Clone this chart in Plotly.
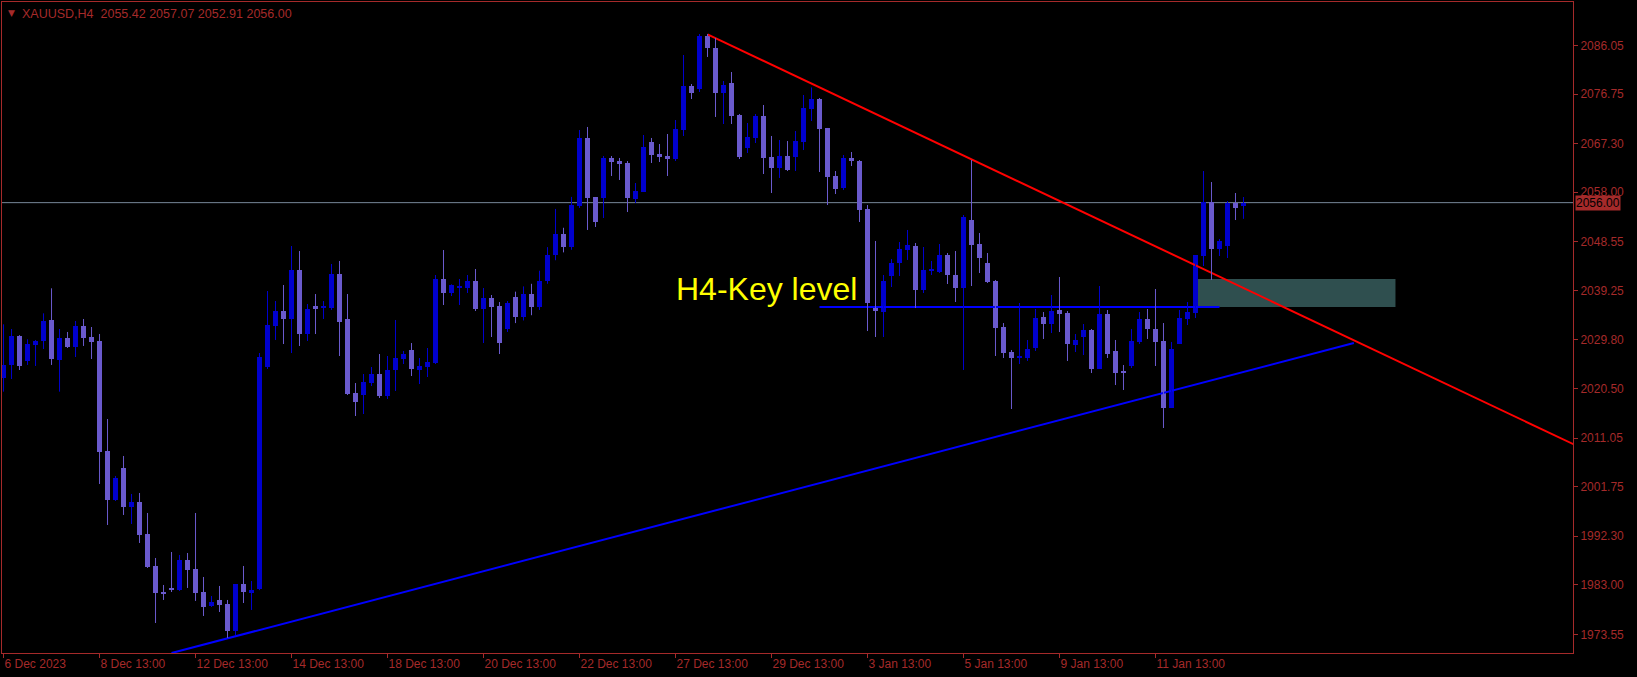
import plotly.graph_objects as go

# ---------------- data (XAUUSD H4, bar index 0..155) ----------------
opens = [2022.58, 2025.00, 2030.54, 2025.76, 2028.82, 2029.58, 2033.59, 2025.95, 2030.15, 2028.43,
         2032.45, 2030.34, 2029.58, 2008.57, 1999.21, 2005.33, 1997.88, 1998.83, 1992.72, 1986.61,
         1981.64, 1982.41, 1982.02, 1987.76, 1986.04, 1981.64, 1978.97, 1980.12, 1979.35, 1974.20,
         1983.17, 1981.45, 1982.21, 2024.61, 2032.44, 2035.30, 2033.78, 2043.14, 2030.91, 2036.26,
         2035.88, 2035.88, 2042.37, 2033.78, 2019.64, 2019.26, 2021.55, 2023.27, 2019.07, 2024.04,
         2026.14, 2027.86, 2024.04, 2024.61, 2025.37, 2041.42, 2038.74, 2039.76, 2039.70, 2041.04,
         2035.69, 2037.79, 2036.26, 2031.87, 2038.00, 2034.20, 2038.50, 2036.00, 2041.00, 2046.00,
         2050.00, 2047.50, 2055.36, 2068.35, 2057.08, 2056.89, 2064.53, 2063.95, 2063.57, 2056.70,
         2058.03, 2067.58, 2065.29, 2064.91, 2064.33, 2069.87, 2078.28, 2077.70, 2087.83, 2085.53,
         2076.94, 2078.85, 2072.74, 2066.44, 2068.35, 2072.55, 2064.72, 2062.62, 2064.91, 2064.72,
         2067.58, 2073.88, 2075.79, 2070.26, 2061.09, 2058.80, 2064.53, 2063.95, 2054.78, 2035.88,
         2035.11, 2041.99, 2044.47, 2046.95, 2047.72, 2039.32, 2042.94, 2042.75, 2046.00, 2042.18,
         2039.70, 2052.68, 2048.10, 2044.47, 2041.03, 2032.25, 2027.47, 2026.33, 2026.33, 2028.24,
         2034.16, 2032.82, 2035.50, 2034.92, 2028.81, 2030.34, 2031.68, 2024.23, 2034.73, 2027.67,
         2023.72, 2024.80, 2029.39, 2033.78, 2031.87, 2029.58, 2016.78, 2029.00, 2033.78, 2034.92,
         2045.81, 2056.12, 2047.15, 2047.72, 2055.93, 2055.42]
highs = [2032.76, 2031.87, 2030.70, 2029.90, 2029.77, 2034.86, 2039.64, 2031.87, 2031.30, 2033.40,
         2033.78, 2032.25, 2030.92, 2014.68, 2003.80, 2007.62, 2000.36, 2000.55, 1996.73, 1988.14,
         1982.98, 1989.28, 1988.71, 1989.09, 1996.73, 1984.51, 1980.88, 1982.79, 1980.12, 1983.17,
         1986.61, 1983.74, 2027.28, 2039.12, 2037.21, 2040.27, 2047.72, 2046.76, 2036.64, 2038.55,
         2037.21, 2044.28, 2044.86, 2038.55, 2021.55, 2023.27, 2024.61, 2027.09, 2026.71, 2033.59,
         2027.67, 2029.19, 2026.33, 2028.24, 2042.18, 2046.95, 2040.40, 2041.42, 2042.18, 2043.33,
         2039.70, 2038.36, 2037.02, 2037.21, 2039.00, 2040.00, 2040.50, 2043.00, 2047.50, 2054.80,
         2051.20, 2057.10, 2069.87, 2070.45, 2057.08, 2064.91, 2064.91, 2064.53, 2063.95, 2059.75,
         2068.92, 2068.35, 2067.20, 2069.11, 2071.78, 2084.20, 2078.66, 2088.21, 2088.21, 2087.44,
         2079.23, 2080.95, 2072.93, 2071.21, 2072.93, 2074.65, 2068.73, 2067.96, 2067.77, 2069.68,
         2076.56, 2078.00, 2075.98, 2070.26, 2062.04, 2065.10, 2065.67, 2064.14, 2055.55, 2048.68,
         2042.18, 2045.24, 2048.48, 2050.78, 2048.29, 2047.53, 2044.86, 2048.10, 2046.38, 2046.76,
         2053.64, 2064.14, 2050.20, 2046.38, 2041.23, 2033.01, 2027.86, 2036.83, 2029.77, 2035.69,
         2035.11, 2038.36, 2041.80, 2035.30, 2030.91, 2032.82, 2031.87, 2040.08, 2035.50, 2029.77,
         2024.99, 2031.87, 2035.11, 2035.69, 2039.51, 2033.01, 2029.39, 2035.50, 2037.02, 2046.00,
         2062.04, 2059.94, 2049.06, 2056.31, 2057.84, 2057.07]
lows = [2019.90, 2022.32, 2024.04, 2025.00, 2024.81, 2028.05, 2025.00, 2019.90, 2028.24, 2026.52,
        2028.63, 2026.14, 2002.27, 1994.44, 1999.02, 1996.35, 1994.63, 1991.00, 1986.23, 1975.72,
        1980.12, 1981.64, 1981.83, 1982.41, 1979.93, 1977.06, 1978.78, 1977.82, 1972.86, 1973.43,
        1979.54, 1978.21, 1982.00, 2024.23, 2029.77, 2029.00, 2027.28, 2028.62, 2029.58, 2030.91,
        2033.78, 2035.50, 2026.71, 2019.26, 2015.25, 2015.63, 2020.98, 2018.69, 2018.50, 2020.03,
        2025.18, 2022.89, 2021.36, 2022.70, 2025.18, 2036.45, 2038.17, 2036.45, 2038.74, 2035.30,
        2029.19, 2030.34, 2027.09, 2031.30, 2033.00, 2033.50, 2034.50, 2035.50, 2040.50, 2045.00,
        2046.50, 2047.00, 2054.98, 2050.78, 2051.35, 2053.07, 2061.09, 2060.33, 2054.21, 2055.93,
        2058.03, 2063.57, 2063.76, 2061.09, 2063.95, 2068.73, 2075.79, 2077.13, 2083.82, 2072.36,
        2071.02, 2071.02, 2064.33, 2065.48, 2067.39, 2061.47, 2057.84, 2060.71, 2062.04, 2062.04,
        2066.05, 2071.59, 2061.85, 2055.55, 2057.65, 2058.41, 2063.00, 2052.30, 2031.48, 2030.34,
        2030.34, 2039.89, 2041.99, 2045.05, 2035.88, 2038.74, 2042.18, 2042.56, 2040.46, 2037.02,
        2024.04, 2040.08, 2042.56, 2040.65, 2026.71, 2026.33, 2016.59, 2025.18, 2025.76, 2027.67,
        2029.96, 2031.10, 2031.29, 2025.76, 2027.47, 2026.90, 2023.46, 2024.23, 2026.33, 2021.17,
        2020.22, 2024.42, 2029.00, 2029.96, 2024.80, 2012.96, 2016.78, 2029.00, 2032.63, 2033.97,
        2043.90, 2041.23, 2045.81, 2045.43, 2052.68, 2052.91]
closes = [2025.00, 2030.54, 2024.81, 2029.01, 2029.52, 2033.40, 2026.14, 2030.15, 2028.43, 2032.45,
          2030.15, 2029.39, 2008.45, 1999.21, 2003.42, 1997.88, 1998.83, 1992.53, 1986.42, 1981.45,
          1981.26, 1982.02, 1987.76, 1985.85, 1981.45, 1978.78, 1979.73, 1979.16, 1974.20, 1983.17,
          1981.64, 1982.02, 2026.52, 2032.57, 2035.24, 2033.78, 2043.14, 2030.91, 2035.69, 2035.69,
          2036.00, 2042.37, 2033.20, 2019.45, 2017.93, 2021.74, 2023.27, 2019.07, 2024.04, 2026.33,
          2027.09, 2024.23, 2024.80, 2025.56, 2041.42, 2038.74, 2040.27, 2039.89, 2041.04, 2035.69,
          2037.79, 2036.07, 2029.19, 2036.83, 2034.20, 2038.50, 2036.00, 2041.00, 2046.00, 2050.00,
          2047.50, 2055.60, 2068.35, 2056.89, 2052.30, 2064.53, 2063.76, 2063.38, 2056.89, 2058.22,
          2066.63, 2065.10, 2064.72, 2064.33, 2070.06, 2078.28, 2076.94, 2087.83, 2085.53, 2076.94,
          2078.47, 2072.55, 2064.72, 2068.54, 2072.55, 2064.53, 2062.62, 2064.91, 2062.23, 2067.77,
          2074.08, 2075.79, 2070.06, 2060.90, 2058.61, 2064.53, 2063.95, 2054.59, 2036.83, 2035.30,
          2041.03, 2044.47, 2047.15, 2047.91, 2039.32, 2043.14, 2043.33, 2046.00, 2042.18, 2039.70,
          2053.26, 2047.91, 2045.43, 2040.84, 2032.06, 2027.28, 2026.33, 2026.52, 2028.05, 2033.97,
          2032.82, 2035.30, 2034.73, 2029.00, 2029.77, 2031.68, 2024.23, 2034.73, 2027.09, 2023.46,
          2023.59, 2029.58, 2033.78, 2031.87, 2029.39, 2016.78, 2028.05, 2033.97, 2035.11, 2046.00,
          2056.12, 2047.15, 2048.67, 2055.93, 2054.98, 2056.00]

bars = list(range(len(closes)))

time_tick_bars = [0, 12, 24, 36, 48, 60, 72, 84, 96, 108, 120, 132, 144]
time_tick_labels = ["6 Dec 2023", "8 Dec 13:00", "12 Dec 13:00", "14 Dec 13:00", "18 Dec 13:00",
                    "20 Dec 13:00", "22 Dec 13:00", "27 Dec 13:00", "29 Dec 13:00", "3 Jan 13:00",
                    "5 Jan 13:00", "9 Jan 13:00", "11 Jan 13:00"]
price_ticks = [2086.05, 2076.75, 2067.30, 2058.00, 2048.55, 2039.25, 2029.80, 2020.50,
               2011.05, 2001.75, 1992.30, 1983.00, 1973.55]
price_tick_labels = ["%.2f" % v for v in price_ticks]

# drawn objects (bar index, price)
resistance_x = [88, 196.3]
resistance_y = [2088.15, 2009.83]
support_x = [21.0, 168.8]
support_y = [1969.98, 2029.20]
key_level_x = [102, 152]
key_level_y = [2036.07, 2036.07]
zone_x = [149, 174]
zone_y = [2036.07, 2041.42]
key_text_pos = (83.8, 2039.5)

title_text = "XAUUSD,H4  %.2f %.2f %.2f %.2f" % (opens[-1], highs[-1], lows[-1], closes[-1])

# ---------------- styling ----------------
AX = "#A52A2A"
BULL = "#0000CD"
BEAR = "#6A5ACD"
FONT = "Liberation Sans"

fig = go.Figure()

# zone (background)
fig.add_shape(type="rect", x0=zone_x[0], x1=zone_x[1], y0=zone_y[0], y1=zone_y[1],
              xref="x", yref="y", fillcolor="#2F4F4F", line_width=0, layer="below")
# bid line
fig.add_shape(type="line", xref="x domain", x0=0, x1=1, yref="y", y0=closes[-1], y1=closes[-1],
              line=dict(color="#778899", width=1), layer="below")

# trend lines
fig.add_trace(go.Scatter(x=resistance_x, y=resistance_y, mode="lines",
                         line=dict(color="#FF0000", width=2), hoverinfo="skip"))
fig.add_trace(go.Scatter(x=support_x, y=support_y, mode="lines",
                         line=dict(color="#0000FF", width=2), hoverinfo="skip"))
fig.add_trace(go.Scatter(x=key_level_x, y=key_level_y, mode="lines",
                         line=dict(color="#0000FF", width=2), hoverinfo="skip"))

# wicks
for col, is_bull in ((BULL, True), (BEAR, False)):
    wx, wy = [], []
    for i in bars:
        if (closes[i] >= opens[i]) == is_bull:
            wx += [i, i, None]
            wy += [lows[i], highs[i], None]
    fig.add_trace(go.Scatter(x=wx, y=wy, mode="lines", line=dict(color=col, width=1),
                             hoverinfo="skip"))

# bodies
base = [min(o, c) for o, c in zip(opens, closes)]
height = [max(abs(c - o), 0.2) for o, c in zip(opens, closes)]
colors = [BULL if c >= o else BEAR for o, c in zip(opens, closes)]
fig.add_trace(go.Bar(x=bars, y=height, base=base, width=0.625, marker=dict(color=colors, line_width=0),
                     hoverinfo="skip"))

# texts
fig.add_annotation(x=key_text_pos[0], y=key_text_pos[1], xref="x", yref="y", text="H4-Key level",
                   showarrow=False, xanchor="left", yanchor="middle",
                   font=dict(family=FONT, size=32, color="#FFFF00"))
fig.add_annotation(xref="paper", yref="paper", x=0, y=1, xshift=4, yshift=-4, text="▼",
                   showarrow=False, xanchor="left", yanchor="top",
                   font=dict(family="DejaVu Sans", size=9, color=AX))
fig.add_annotation(xref="paper", yref="paper", x=0, y=1, xshift=18, yshift=-3, text=title_text,
                   showarrow=False, xanchor="left", yanchor="top",
                   font=dict(family=FONT, size=12.5, color=AX))
fig.add_annotation(xref="paper", yref="y", x=1, xshift=2, y=closes[-1], text="%.2f" % closes[-1],
                   showarrow=False, xanchor="left", yanchor="middle", bgcolor=AX,
                   borderpad=0, font=dict(family=FONT, size=12, color="#000000"))

axis_common = dict(showgrid=False, zeroline=False, showline=True, mirror=True, linecolor=AX,
                   linewidth=1, ticks="outside", ticklen=4, tickcolor=AX,
                   tickfont=dict(family=FONT, size=12, color=AX), fixedrange=True,
                   automargin=False)

fig.update_layout(
    width=1637, height=677,
    margin=dict(l=2, r=64, t=2, b=24),
    paper_bgcolor="#000000", plot_bgcolor="#000000",
    showlegend=False, hovermode=False, bargap=0,
    xaxis=dict(range=[-0.19, 196.19], tickmode="array", tickvals=time_tick_bars,
               ticktext=time_tick_labels, ticklabelposition="outside right", **axis_common),
    yaxis=dict(range=[1969.99, 2094.32], side="right", tickmode="array", tickvals=price_ticks,
               ticktext=price_tick_labels, **axis_common),
)

fig.write_html("out.html", config={"displayModeBar": False},
               post_script="document.body.style.margin='0px';document.body.style.background='#000';")
